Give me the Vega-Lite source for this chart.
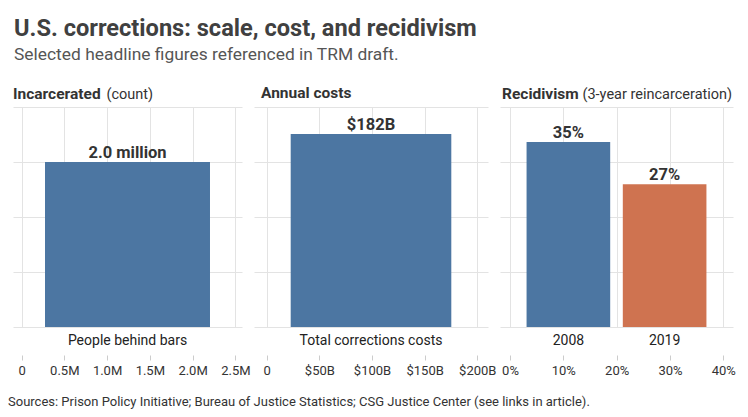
{
  "$schema": "https://vega.github.io/schema/vega-lite/v6.json",
  "background": "white",
  "padding": {"left": 8, "top": 16, "right": 5, "bottom": 5},
  "config": {
    "font": "Roboto",
    "view": {"stroke": null},
    "axis": {"gridColor": "#e3e3e3", "labelFont": "Roboto", "titleFont": "Roboto"}
  },
  "title": {
    "text": "U.S. corrections: scale, cost, and recidivism",
    "subtitle": "Selected headline figures referenced in TRM draft.",
    "anchor": "start",
    "dx": 6,
    "fontSize": 23.6,
    "fontWeight": "bold",
    "color": "#404040",
    "subtitleFontSize": 17.4,
    "subtitleColor": "#555555",
    "subtitlePadding": 5.7,
    "offset": 22.5
  },
  "vconcat": [
    {
      "title": {
        "text": "Sources: Prison Policy Initiative; Bureau of Justice Statistics; CSG Justice Center (see links in article).",
        "orient": "bottom",
        "anchor": "start",
        "fontSize": 13,
        "fontWeight": "normal",
        "color": "#333333",
        "offset": 19,
        "dx": -5
      },
      "spacing": 12,
      "bounds": "flush",
      "hconcat": [
        {
          "width": 229,
          "height": 220,
          "title": {"text": "Incarcerated", "anchor": "start", "fontSize": 15.5, "fontWeight": "bold", "color": "#333333", "offset": -16.5},
          "data": {"values": [{"label": "People behind bars", "value": 2000000, "text": "2.0 million"}]},
          "resolve": {"scale": {"x": "independent"}},
          "layer": [
            {
              "layer": [
                {
                  "mark": {"type": "bar", "color": "#4c76a2"},
                  "encoding": {
                    "x": {"field": "label", "type": "nominal", "scale": {"paddingInner": 0, "paddingOuter": 0.194},
                      "axis": {"orient": "bottom", "title": null, "ticks": false, "domain": false, "grid": false, "labelAngle": 0, "labelFontSize": 14, "labelColor": "#222222", "labelPadding": 6}},
                    "y": {"field": "value", "type": "quantitative", "scale": {"domain": [0, 2666667], "nice": false},
                      "axis": {"title": "(count)", "values": [0, 666667, 1333333, 2000000, 2666666], "labels": false, "ticks": false, "domain": false, "grid": true,
                        "titleAngle": 0, "titleAlign": "left", "titleBaseline": "alphabetic", "titleX": 93, "titleY": -9, "titleFontSize": 14.5, "titleFontWeight": "normal", "titleColor": "#333333"}}
                  }
                },
                {
                  "mark": {"type": "text", "fontSize": 16.5, "fontWeight": "bold", "color": "#333333", "baseline": "alphabetic", "dy": -4},
                  "encoding": {
                    "x": {"field": "label", "type": "nominal"},
                    "y": {"field": "value", "type": "quantitative"},
                    "text": {"field": "text"}
                  }
                }
              ]
            },
            {
              "mark": {"type": "point", "opacity": 0},
              "encoding": {
                "x": {"field": "value", "type": "quantitative", "scale": {"domain": [-100000, 2578000], "nice": false, "zero": false},
                  "axis": {"orient": "bottom", "offset": 28, "title": null, "values": [0, 500000, 1000000, 1500000, 2000000, 2500000],
                    "labelExpr": "datum.value == 0 ? '0' : format(datum.value / 1000000, '.1f') + 'M'",
                    "grid": true, "ticks": true, "tickColor": "#cccccc", "tickSize": 5, "domain": false, "labelFontSize": 13, "labelColor": "#333333", "labelPadding": 4}}
              }
            }
          ]
        },
        {
          "width": 234,
          "height": 220,
          "title": {"text": "Annual costs", "anchor": "start", "fontSize": 15.5, "fontWeight": "bold", "color": "#333333", "offset": 5.5, "dx": 7},
          "data": {"values": [{"label": "Total corrections costs", "value": 182, "text": "$182B"}]},
          "resolve": {"scale": {"x": "independent"}},
          "layer": [
            {
              "layer": [
                {
                  "mark": {"type": "bar", "color": "#4c76a2"},
                  "encoding": {
                    "x": {"field": "label", "type": "nominal", "scale": {"paddingInner": 0, "paddingOuter": 0.2285},
                      "axis": {"orient": "bottom", "title": null, "ticks": false, "domain": false, "grid": false, "labelAngle": 0, "labelFontSize": 14, "labelColor": "#222222", "labelPadding": 6}},
                    "y": {"field": "value", "type": "quantitative", "scale": {"domain": [0, 207.5], "nice": false},
                      "axis": {"title": null, "values": [0, 51.875, 103.75, 155.625, 207.49], "labels": false, "ticks": false, "domain": false, "grid": true}}
                  }
                },
                {
                  "mark": {"type": "text", "fontSize": 16.5, "fontWeight": "bold", "color": "#333333", "baseline": "alphabetic", "dy": -4},
                  "encoding": {
                    "x": {"field": "label", "type": "nominal"},
                    "y": {"field": "value", "type": "quantitative"},
                    "text": {"field": "text"}
                  }
                }
              ]
            },
            {
              "mark": {"type": "point", "opacity": 0},
              "encoding": {
                "x": {"field": "value", "type": "quantitative", "scale": {"domain": [-12.1, 210.2], "nice": false, "zero": false},
                  "axis": {"orient": "bottom", "offset": 28, "title": null, "values": [0, 50, 100, 150, 200],
                    "labelExpr": "datum.value == 0 ? '0' : '$' + datum.value + 'B'",
                    "grid": true, "ticks": true, "tickColor": "#cccccc", "tickSize": 5, "domain": false, "labelFontSize": 13, "labelColor": "#333333", "labelPadding": 4}}
              }
            }
          ]
        },
        {
          "width": 233,
          "height": 220,
          "title": {"text": "Recidivism", "anchor": "start", "fontSize": 15.5, "fontWeight": "bold", "color": "#333333", "offset": -16.5, "dx": 2},
          "data": {"values": [
            {"label": "2008", "value": 35, "text": "35%"},
            {"label": "2019", "value": 27, "text": "27%"}
          ]},
          "resolve": {"scale": {"x": "independent"}},
          "layer": [
            {
              "layer": [
                {
                  "mark": {"type": "bar"},
                  "encoding": {
                    "x": {"field": "label", "type": "nominal", "scale": {"paddingInner": 0.131, "paddingOuter": 0.276},
                      "axis": {"orient": "bottom", "title": null, "ticks": false, "domain": false, "grid": false, "labelAngle": 0, "labelFontSize": 14, "labelColor": "#222222", "labelPadding": 6}},
                    "y": {"field": "value", "type": "quantitative", "scale": {"domain": [0, 41.6], "nice": false},
                      "axis": {"title": "(3-year reincarceration)", "values": [0, 10.4, 20.8, 31.2, 41.59], "labels": false, "ticks": false, "domain": false, "grid": true,
                        "titleAngle": 0, "titleAlign": "left", "titleBaseline": "alphabetic", "titleX": 82, "titleY": -9, "titleFontSize": 14.5, "titleFontWeight": "normal", "titleColor": "#333333"}},
                    "color": {"field": "label", "type": "nominal", "scale": {"domain": ["2008", "2019"], "range": ["#4c76a2", "#cf7350"]}, "legend": null}
                  }
                },
                {
                  "mark": {"type": "text", "fontSize": 16.5, "fontWeight": "bold", "color": "#333333", "baseline": "alphabetic", "dy": -4},
                  "encoding": {
                    "x": {"field": "label", "type": "nominal"},
                    "y": {"field": "value", "type": "quantitative"},
                    "text": {"field": "text"}
                  }
                }
              ]
            },
            {
              "mark": {"type": "point", "opacity": 0},
              "encoding": {
                "x": {"field": "value", "type": "quantitative", "scale": {"domain": [-1.875, 41.82], "nice": false, "zero": false},
                  "axis": {"orient": "bottom", "offset": 28, "title": null, "values": [0, 10, 20, 30, 40],
                    "labelExpr": "datum.value + '%'",
                    "grid": true, "ticks": true, "tickColor": "#cccccc", "tickSize": 5, "domain": false, "labelFontSize": 13, "labelColor": "#333333", "labelPadding": 4}}
              }
            }
          ]
        }
      ]
    }
  ]
}
